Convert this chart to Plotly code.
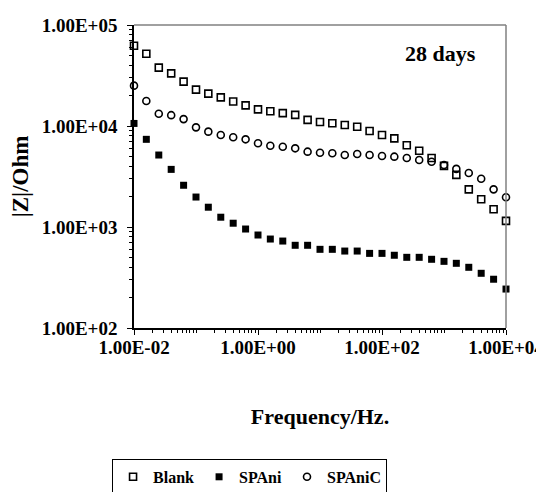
import plotly.graph_objects as go

freq = [0.01, 0.0158, 0.0251, 0.0398, 0.0631, 0.1, 0.158, 0.251, 0.398, 0.631,
        1, 1.58, 2.51, 3.98, 6.31, 10, 15.8, 25.1, 39.8, 63.1,
        100, 158, 251, 398, 631, 1000, 1580, 2510, 3980, 6310, 10000]

blank = [62400, 52000, 37800, 33200, 27500, 22900, 20900, 19200, 17500, 16000,
         14600, 14000, 13400, 12900, 11500, 10960, 10650, 10230, 9840, 8910,
         8140, 7550, 6440, 5690, 4820, 4030, 3280, 2360, 1880, 1500, 1150]

spani = [10600, 7380, 5160, 3720, 2590, 1980, 1570, 1250, 1090, 955,
         833, 760, 726, 659, 659, 601, 601, 578, 578, 548,
         548, 525, 501, 501, 479, 457, 437, 399, 348, 304, 243]

spanic = [25100, 17700, 13200, 12800, 11700, 9700, 8790, 8140, 7730, 7380,
          6740, 6380, 6230, 6010, 5570, 5440, 5370, 5160, 5290, 5160,
          5040, 4970, 4820, 4600, 4430, 4110, 3760, 3420, 3000, 2360, 1970]

x_tickvals = [0.01, 1, 100, 10000]
x_ticktext = ["1.00E-02", "1.00E+00", "1.00E+02", "1.00E+04"]
y_tickvals = [100, 1000, 10000, 100000]
y_ticktext = ["1.00E+02", "1.00E+03", "1.00E+04", "1.00E+05"]

FONT = "Liberation Serif, Times New Roman, serif"

fig = go.Figure()
fig.add_trace(go.Scatter(x=freq, y=blank, mode="markers", name="Blank",
                         marker=dict(symbol="square-open", size=7, color="black",
                                     line=dict(width=1.6, color="black")),
                         cliponaxis=False))
fig.add_trace(go.Scatter(x=freq, y=spani, mode="markers", name="SPAni",
                         marker=dict(symbol="square", size=7, color="black"),
                         cliponaxis=False))
fig.add_trace(go.Scatter(x=freq, y=spanic, mode="markers", name="SPAniC",
                         marker=dict(symbol="circle-open", size=7, color="black",
                                     line=dict(width=1.6, color="black")),
                         cliponaxis=False))

axis_common = dict(type="log", showgrid=False, zeroline=False, showline=True,
                   linecolor="black", linewidth=1.5, ticks="outside", ticklen=5,
                   tickwidth=1, tickcolor="black", automargin=False,
                   tickfont=dict(family=FONT, size=19, color="black", weight=700),
                   minor=dict(ticks="outside", ticklen=3, tickwidth=1, tickcolor="black",
                              dtick="D1", showgrid=False))

fig.update_xaxes(**axis_common, range=[-2, 4], tickmode="array",
                 tickvals=x_tickvals, ticktext=x_ticktext, ticklabelstandoff=-4,
                 title=dict(text="Frequency/Hz.", standoff=52,
                            font=dict(family=FONT, size=22, color="black", weight=700)))
fig.update_yaxes(**axis_common, range=[2, 5], tickmode="array",
                 tickvals=y_tickvals, ticktext=y_ticktext, ticklabelstandoff=6,
                 title=dict(text="|Z|/Ohm", standoff=8,
                            font=dict(family=FONT, size=23, color="black", weight=700)))

# gray top and right frame lines
fig.add_shape(type="line", xref="paper", yref="paper", x0=0, x1=1, y0=1, y1=1,
              line=dict(color="#808080", width=1.5))
fig.add_shape(type="line", xref="paper", yref="paper", x0=1, x1=1, y0=0, y1=1,
              line=dict(color="#808080", width=1.5))

fig.add_annotation(text="28 days", xref="paper", yref="paper", x=0.823, y=0.905,
                   showarrow=False, xanchor="center", yanchor="middle",
                   font=dict(family=FONT, size=22, color="black", weight=700))

fig.update_layout(
    width=544, height=492,
    margin=dict(l=126, r=46, t=17, b=172, autoexpand=False),
    paper_bgcolor="white", plot_bgcolor="white",
    showlegend=True,
    legend=dict(orientation="h", x=-0.059, y=-0.432, xanchor="left", yanchor="top",
                bordercolor="black", borderwidth=1, bgcolor="white",
                font=dict(family=FONT, size=16, color="black", weight=700),
                itemwidth=30, tracegroupgap=0),
)

fig.write_html("out.html")
